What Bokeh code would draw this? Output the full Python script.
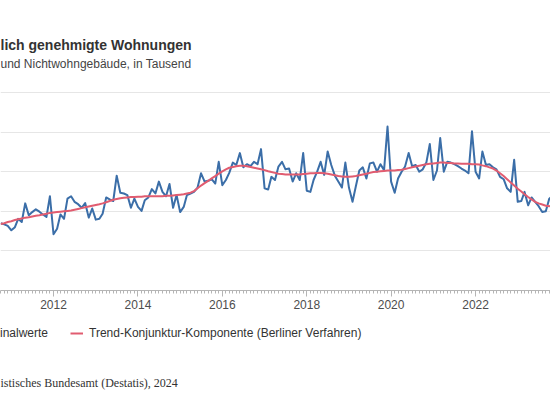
import pandas as pd
from bokeh.plotting import figure
from bokeh.layouts import column
from bokeh.models import (ColumnDataSource, Range1d, FixedTicker, DatetimeTickFormatter,
                          Grid, Label, Legend, LegendItem)
from bokeh.embed import file_html
from bokeh.resources import INLINE

# ---------------- data ----------------
title_text = "lich genehmigte Wohnungen"
subtitle_text = "und Nichtwohngebäude, in Tausend"
source_text = "istisches Bundesamt (Destatis), 2024"
name_orig = "inalwerte"
name_trend = "Trend-Konjunktur-Komponente (Berliner Verfahren)"

first_month = "2010-10-01"

originalwerte = [
    17.0, 16.7, 16.3, 15.2, 16.0, 18.1, 17.3, 22.0, 19.0, 19.8, 20.5, 19.9,
    19.2, 18.6, 23.8, 14.2, 15.6, 19.2, 18.1, 23.2, 23.8, 22.4, 21.8, 20.9,
    22.1, 18.4, 20.7, 17.9, 18.1, 19.4, 23.5, 23.0, 22.6, 29.0, 24.7, 24.5,
    24.1, 20.9, 23.2, 21.1, 20.1, 22.8, 23.5, 25.6, 24.5, 27.5, 24.9, 23.8,
    26.9, 20.9, 24.1, 19.8, 21.1, 24.1, 24.5, 24.9, 26.0, 29.6, 27.5, 27.7,
    28.1, 27.0, 32.5, 26.6, 27.9, 29.7, 32.3, 31.7, 34.7, 31.1, 31.9, 31.4,
    32.5, 31.9, 35.7, 25.8, 25.5, 28.7, 27.9, 31.3, 32.5, 30.6, 30.8, 27.5,
    29.6, 27.9, 34.7, 25.2, 24.9, 27.9, 30.0, 32.5, 29.2, 35.1, 31.7, 29.0,
    27.5, 26.0, 32.3, 26.0, 22.4, 26.2, 30.3, 31.1, 28.3, 32.1, 32.3, 30.0,
    31.9, 30.4, 41.4, 27.5, 24.7, 28.3, 30.0, 31.3, 34.7, 31.4, 31.7, 30.0,
    30.6, 32.3, 37.0, 27.9, 30.3, 38.5, 30.0, 32.5, 32.3, 31.9, 31.4, 30.8,
    30.3, 29.6, 40.2, 30.0, 28.3, 35.1, 31.7, 31.9, 31.1, 30.6, 28.7, 28.1,
    25.8, 24.9, 33.0, 22.4, 22.6, 24.9, 21.5, 23.5, 22.4, 21.3, 19.8, 20.0,
    23.2, 24.0,
]

trend = [
    16.8, 17.0, 17.3, 17.5, 17.8, 18.0, 18.2, 18.4, 18.5, 18.7, 18.9, 19.0,
    19.2, 19.4, 19.6, 19.7, 19.8, 19.9, 20.0, 20.1, 20.2, 20.4, 20.6, 20.8,
    21.0, 21.2, 21.4, 21.6, 21.8, 22.0, 22.3, 22.6, 22.9, 23.1, 23.3, 23.4,
    23.5, 23.6, 23.6, 23.7, 23.7, 23.8, 23.8, 23.8, 23.8, 23.8, 23.8, 23.9,
    23.9, 24.0, 24.1, 24.2, 24.3, 24.5, 24.7, 25.1, 25.8, 26.5, 27.1, 27.7,
    28.3, 28.9, 29.5, 30.1, 30.6, 31.0, 31.2, 31.4, 31.5, 31.5, 31.4, 31.2,
    31.0, 30.8, 30.6, 30.4, 30.1, 29.9, 29.7, 29.5, 29.4, 29.3, 29.3, 29.3,
    29.3, 29.3, 29.4, 29.5, 29.6, 29.6, 29.7, 29.7, 29.6, 29.5, 29.3, 29.1,
    28.9, 28.8, 28.7, 28.7, 28.8, 28.9, 29.1, 29.3, 29.5, 29.7, 29.9, 30.0,
    30.1, 30.2, 30.3, 30.3, 30.3, 30.4, 30.5, 30.7, 30.9, 31.1, 31.3, 31.5,
    31.7, 31.9, 32.0, 32.1, 32.2, 32.3, 32.3, 32.2, 32.2, 32.1, 32.1, 32.0,
    32.0, 32.0, 31.9, 31.9, 31.8, 31.6, 31.4, 31.1, 30.8, 30.3, 29.6, 28.9,
    28.1, 27.3, 26.5, 25.7, 25.0, 24.3, 23.6, 23.0, 22.4, 22.0, 21.7, 21.4,
    21.3, 21.4,
]

tick_years = [2012, 2014, 2016, 2018, 2020, 2022, 2024]
y_grid_values = [0, 10, 20, 30, 40, 50]

# ---------------- main chart ----------------
months = pd.date_range(first_month, periods=len(originalwerte), freq="MS")
src = ColumnDataSource(dict(date=months, orig=originalwerte, trend=trend))

ref = pd.Timestamp("2012-01-01")
x_start = ref - pd.Timedelta(days=458.8)
x_end = ref + pd.Timedelta(days=4301.6)

SANS = "Liberation Sans"
BLUE = "#3b6ea8"
RED = "#e15c70"
PX_PER_UNIT = 198 / 50.0
y_top = 50 + 92 / PX_PER_UNIT

p = figure(width=550, height=314, x_axis_type="datetime",
           x_range=Range1d(x_start, x_end), y_range=Range1d(0, y_top),
           output_backend="svg", toolbar_location=None,
           min_border_left=0, min_border_right=0,
           min_border_top=0, min_border_bottom=24,
           y_axis_location=None, outline_line_color=None,
           background_fill_color="white", border_fill_color="white")

for g in p.grid:
    g.visible = False
p.add_layout(Grid(dimension=1, ticker=FixedTicker(ticks=y_grid_values),
                  grid_line_color="#e6e6e6", grid_line_width=1))

major = [pd.Timestamp(f"{y}-01-01").value / 1e6 for y in tick_years]
minor = [t.value / 1e6 for t in pd.date_range("2010-01-01", "2024-12-01", freq="MS")]
ax = p.xaxis[0]
ax.ticker = FixedTicker(ticks=major, minor_ticks=minor)
ax.formatter = DatetimeTickFormatter(years="%Y", months="%Y", days="%Y")
ax.axis_line_color = "#b5b5b5"
ax.major_tick_line_color = "#b5b5b5"
ax.minor_tick_line_color = "#b5b5b5"
ax.major_tick_in = 0
ax.major_tick_out = 6
ax.minor_tick_in = 0
ax.minor_tick_out = 3
ax.major_label_standoff = 3
ax.major_label_text_font = SANS
ax.major_label_text_font_size = "12px"
ax.major_label_text_color = "#4d4d4d"

p.line("date", "orig", source=src, line_color=BLUE, line_width=2, line_join="round")
p.line("date", "trend", source=src, line_color=RED, line_width=2, line_join="round")

p.add_layout(Label(x=0, y=(290 - 44) / PX_PER_UNIT, x_units="screen", y_units="data",
                   text=title_text, text_align="left", text_baseline="middle",
                   text_font=SANS, text_font_size="14px", text_font_style="bold",
                   text_color="#333333"))
p.add_layout(Label(x=0, y=(290 - 63) / PX_PER_UNIT, x_units="screen", y_units="data",
                   text=subtitle_text, text_align="left", text_baseline="middle",
                   text_font=SANS, text_font_size="12px", text_color="#444444"))

# ---------------- footer (legend + source) ----------------
q = figure(width=550, height=86, x_range=Range1d(0, 550), y_range=Range1d(0, 86),
           output_backend="svg", toolbar_location=None,
           min_border_left=0, min_border_right=0, min_border_top=0, min_border_bottom=0,
           x_axis_location=None, y_axis_location=None, outline_line_color=None,
           background_fill_color="white", border_fill_color="white")
for g in q.grid:
    g.visible = False
# same series (out of this panel's view) so that the legend shows their line styles
l_orig = q.line("date", "orig", source=src, line_color=BLUE, line_width=2)
l_trend = q.line("date", "trend", source=src, line_color=RED, line_width=2)

legend = Legend(items=[LegendItem(label=name_orig, renderers=[l_orig]),
                       LegendItem(label=name_trend, renderers=[l_trend])],
                orientation="horizontal", location=(-19, 57),
                border_line_color=None, background_fill_alpha=0,
                padding=0, margin=0, spacing=22, glyph_width=13, glyph_height=20,
                label_standoff=6, label_text_font=SANS,
                label_text_font_size="12px", label_text_color="#333333")
q.add_layout(legend)

q.add_layout(Label(x=0, y=86 - (382 - 314), text=source_text, text_align="left",
                   text_baseline="middle", text_font="Liberation Serif",
                   text_font_size="12px", text_color="#333333"))

layout = column(p, q, spacing=0)
open("out.html", "w").write(file_html(layout, INLINE))
